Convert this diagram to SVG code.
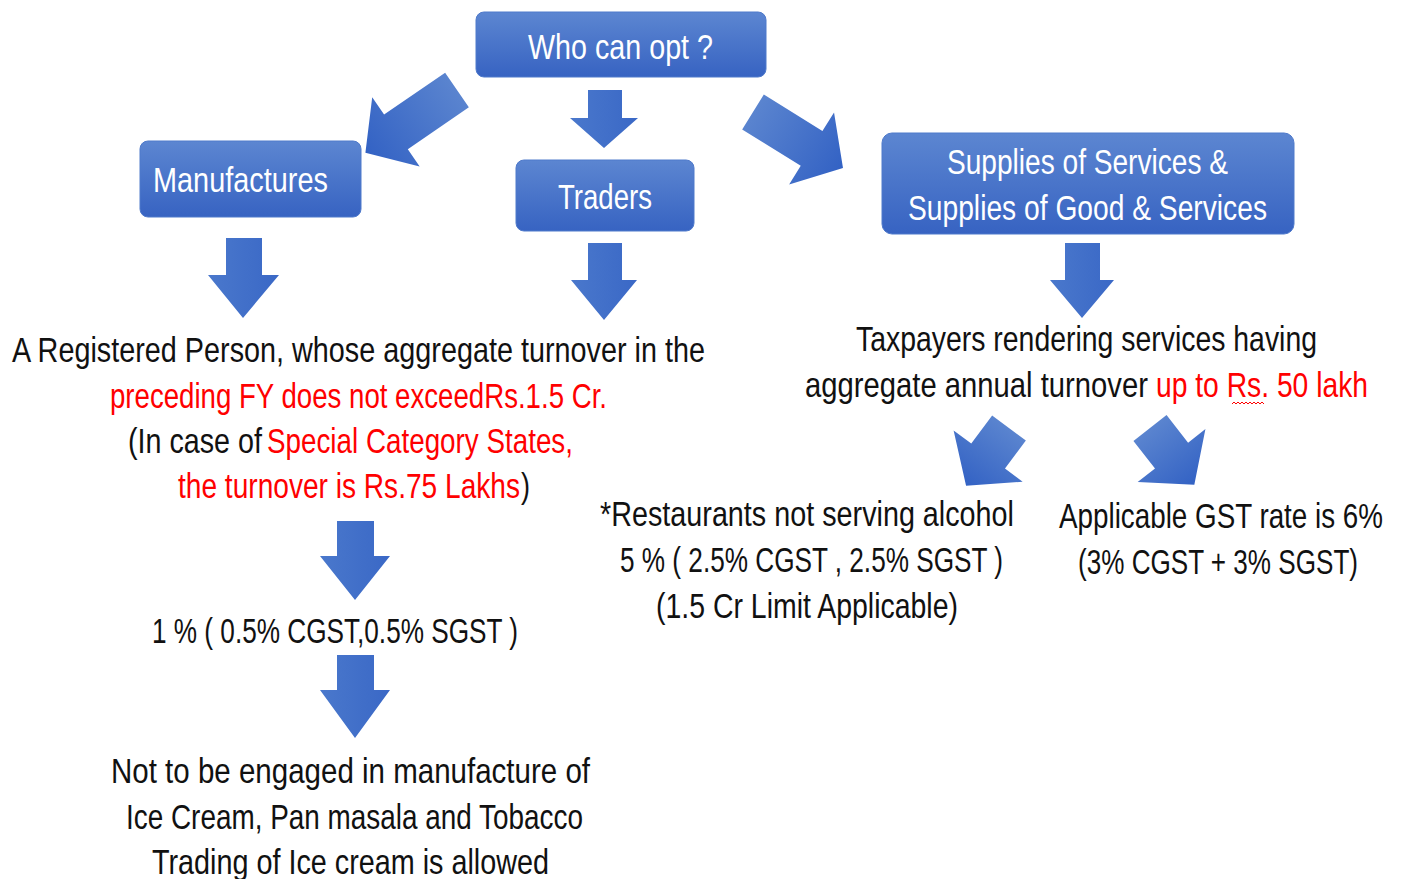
<svg xmlns="http://www.w3.org/2000/svg" width="1402" height="879" viewBox="0 0 1402 879">
<defs>
<linearGradient id="gBox" x1="0" y1="0" x2="0" y2="1">
<stop offset="0" stop-color="#5c86d1"/><stop offset="1" stop-color="#3763c2"/>
</linearGradient>
<linearGradient id="gArr" x1="0" y1="0" x2="1" y2="0">
<stop offset="0" stop-color="#5a84cf"/><stop offset="1" stop-color="#3362c4"/>
</linearGradient>
<linearGradient id="gDn" x1="0" y1="0" x2="1" y2="0">
<stop offset="0" stop-color="#4a78cc"/><stop offset="1" stop-color="#3a68c6"/>
</linearGradient>
<style>
.box{fill:url(#gBox);stroke:#4f7acb;stroke-width:1}
.bt{font-family:"Liberation Sans",Arial,sans-serif;font-size:35px;fill:#ffffff}
.t{font-family:"Liberation Sans",Arial,sans-serif;font-size:35px;fill:#111111}
.r{fill:#ff0000}
.arr{fill:url(#gArr)}
.dn{fill:url(#gDn)}
</style>
</defs>

<g id="who">
<rect class="box" x="476" y="12" width="290" height="65" rx="8"/>
<text class="bt" x="528" y="59" textLength="185" lengthAdjust="spacingAndGlyphs">Who can opt ?</text>
</g>
<g id="manufactures">
<rect class="box" x="140" y="141" width="221" height="76" rx="8"/>
<text class="bt" x="153" y="192" textLength="175" lengthAdjust="spacingAndGlyphs">Manufactures</text>
</g>
<g id="traders">
<rect class="box" x="516" y="160" width="178" height="71" rx="8"/>
<text class="bt" x="558" y="209" textLength="94" lengthAdjust="spacingAndGlyphs">Traders</text>
</g>
<g id="supplies">
<rect class="box" x="882" y="133" width="412" height="101" rx="10"/>
<text class="bt" x="947" y="174" textLength="281" lengthAdjust="spacingAndGlyphs">Supplies of Services &amp;</text>
<text class="bt" x="908" y="220" textLength="359" lengthAdjust="spacingAndGlyphs">Supplies of Good &amp; Services</text>
</g>

<g id="connectors">
<path class="dn" d="M588,90 H622 V118 H638 L604,148 L570,118 H588 Z"/>
<path class="arr" transform="translate(457,90) rotate(145.6)" d="M0,-21 L74,-21 L74,-42 L111,0 L74,42 L74,21 L0,21 Z"/>
<path class="arr" transform="translate(753,112) rotate(31.9)" d="M0,-20.5 L69,-20.5 L69,-42.5 L106,0 L69,42.5 L69,20.5 L0,20.5 Z"/>
<path class="dn" d="M226,238 H262 V275 H279 L243,318 L208,275 H226 Z"/>
<path class="dn" d="M588,243 H622 V280 H637 L604,320 L571,280 H588 Z"/>
<path class="dn" d="M1065,243 H1100 V280 H1114 L1082,318 L1050,280 H1065 Z"/>
<path class="dn" d="M337,521 H374 V556 H390 L355,600 L320,556 H337 Z"/>
<path class="dn" d="M337,655 H374 V690 H390 L355,738 L320,690 H337 Z"/>
<path class="arr" transform="translate(1009,428) rotate(126.6)" d="M0,-21 L35,-21 L35,-43 L72,0 L35,43 L35,21 L0,21 Z"/>
<path class="arr" transform="translate(1150,428) rotate(52)" d="M0,-21 L35,-21 L35,-43 L72,0 L35,43 L35,21 L0,21 Z"/>
</g>

<g id="turnover">
<text class="t" x="12" y="362" textLength="693" lengthAdjust="spacingAndGlyphs">A Registered Person, whose aggregate turnover in the</text>
<text class="t r" x="110" y="408" textLength="497" lengthAdjust="spacingAndGlyphs">preceding FY does not exceedRs.1.5 Cr.</text>
<text class="t" x="128" y="453" textLength="134" lengthAdjust="spacingAndGlyphs">(In case of</text>
<text class="t r" x="267" y="453" textLength="306" lengthAdjust="spacingAndGlyphs">Special Category States,</text>
<text class="t r" x="178" y="498" textLength="342" lengthAdjust="spacingAndGlyphs">the turnover is Rs.75 Lakhs</text>
<text class="t" x="521" y="498" textLength="9" lengthAdjust="spacingAndGlyphs">)</text>
</g>
<g id="rate1">
<text class="t" x="152" y="643" textLength="366" lengthAdjust="spacingAndGlyphs">1 % ( 0.5% CGST,0.5% SGST )</text>
</g>
<g id="condition">
<text class="t" x="111" y="783" textLength="479" lengthAdjust="spacingAndGlyphs">Not to be engaged in manufacture of</text>
<text class="t" x="126" y="829" textLength="457" lengthAdjust="spacingAndGlyphs">Ice Cream, Pan masala and Tobacco</text>
<text class="t" x="152" y="874" textLength="397" lengthAdjust="spacingAndGlyphs">Trading of Ice cream is allowed</text>
</g>
<g id="services">
<text class="t" x="856" y="351" textLength="461" lengthAdjust="spacingAndGlyphs">Taxpayers rendering services having</text>
<text class="t" x="805" y="397" textLength="343" lengthAdjust="spacingAndGlyphs">aggregate annual turnover</text>
<text class="t r" x="1156" y="397" textLength="212" lengthAdjust="spacingAndGlyphs">up to Rs. 50 lakh</text>
<path d="M1232,404 l2,-2 l2,2 l2,-2 l2,2 l2,-2 l2,2 l2,-2 l2,2 l2,-2 l2,2 l2,-2 l2,2 l2,-2 l2,2 l2,-2 l2,2" fill="none" stroke="#ff0000" stroke-width="1"/>
</g>
<g id="restaurants">
<text class="t" x="600" y="526" textLength="414" lengthAdjust="spacingAndGlyphs">*Restaurants not serving alcohol</text>
<text class="t" x="620" y="572" textLength="383" lengthAdjust="spacingAndGlyphs">5 % ( 2.5% CGST , 2.5% SGST )</text>
<text class="t" x="656" y="618" textLength="302" lengthAdjust="spacingAndGlyphs">(1.5 Cr Limit Applicable)</text>
</g>
<g id="rate6">
<text class="t" x="1059" y="528" textLength="324" lengthAdjust="spacingAndGlyphs">Applicable GST rate is 6%</text>
<text class="t" x="1078" y="574" textLength="280" lengthAdjust="spacingAndGlyphs">(3% CGST + 3% SGST)</text>
</g>
</svg>
